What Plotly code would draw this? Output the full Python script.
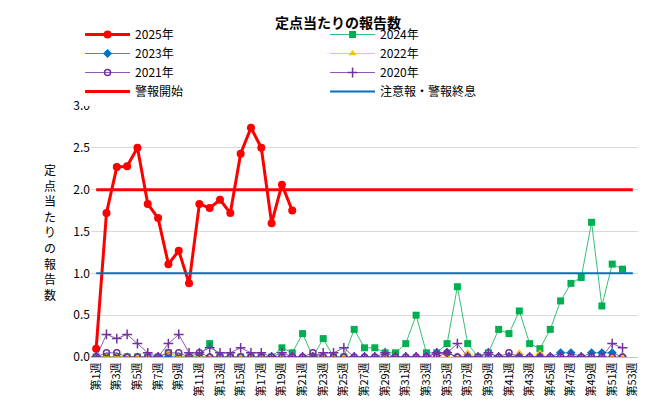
import plotly.graph_objects as go

weeks = [f"第{i}週" for i in range(1, 54)]
y2025 = [0.10,1.72,2.27,2.28,2.50,1.83,1.66,1.11,1.27,0.88,1.83,1.78,1.88,1.72,2.43,2.74,2.50,1.60,2.06,1.75]
y2024 = [0,0,0,0,0,0,0,0.05,0,0,0,0.16,0,0,0,0,0,0,0.11,0.05,0.28,0,0.22,0,0,0.33,0.11,0.11,0.05,0.05,
         0.16,0.50,0.05,0.05,0.16,0.84,0.16,0,0.05,0.33,0.28,0.55,0.16,0.10,0.33,0.67,0.88,0.95,1.61,0.61,1.11,1.05]
y2023 = [0,0,0,0,0,0,0,0,0,0,0,0,0,0,0,0,0,0,0,0,0,0,0,0,0,0,0,0,0,0,0,0,0,0.05,0.05,0,0,0,0.05,0,0,0,0,0,0,0.05,0.05,0,0.05,0.05,0.05,0]
y2022 = [0,0,0,0,0,0,0,0.05,0,0,0,0,0,0,0,0,0,0,0,0,0,0,0,0,0,0,0,0,0,0,0,0,0,0,0,0,0.05,0,0.05,0,0,0.05,0,0.05,0,0,0,0,0,0,0,0]
y2021 = [0,0.05,0.05,0,0,0,0,0.05,0.05,0,0.05,0,0,0,0,0,0,0,0,0,0,0.05,0,0,0,0,0,0,0,0,0,0,0,0,0.05,0,0,0,0,0,0.05,0,0,0,0,0,0,0,0,0,0,0]
y2020 = [0,0.27,0.22,0.27,0.16,0.05,0,0.16,0.27,0.05,0.05,0.11,0.05,0.05,0.11,0.05,0.05,0,0.05,0,0,0,0.05,0.05,0.11,0,0,0,0.05,0,0,0,0,0.05,0.05,0.16,0,0,0.05,0,0,0,0,0,0,0,0,0,0,0,0.16,0.11]
alarm_start = 2.0
alarm_end = 1.0

fig = go.Figure()
fig.add_trace(go.Scatter(x=weeks[:len(y2025)], y=y2025, name="2025年", mode="lines+markers",
    line=dict(color="#FF0000", width=3), marker=dict(symbol="circle", size=8, color="#FF0000")))
fig.add_trace(go.Scatter(x=weeks[:52], y=y2024, name="2024年", mode="lines+markers",
    line=dict(color="#00B050", width=0.8), marker=dict(symbol="square", size=7, color="#00B050")))
fig.add_trace(go.Scatter(x=weeks[:52], y=y2023, name="2023年", mode="lines+markers",
    line=dict(color="#0070C0", width=0.8), marker=dict(symbol="diamond", size=7, color="#0070C0")))
fig.add_trace(go.Scatter(x=weeks[:52], y=y2022, name="2022年", mode="lines+markers",
    line=dict(color="#FFC000", width=0.8), marker=dict(symbol="triangle-up", size=7, color="#FFC000")))
fig.add_trace(go.Scatter(x=weeks[:52], y=y2021, name="2021年", mode="lines+markers",
    line=dict(color="#7030A0", width=0.8), marker=dict(symbol="circle-open", size=6, color="#7030A0", line=dict(width=1.5))))
fig.add_trace(go.Scatter(x=weeks[:52], y=y2020, name="2020年", mode="lines+markers",
    line=dict(color="#7030A0", width=0.8), marker=dict(symbol="cross-thin-open", size=7, color="#7030A0", line=dict(width=1.5, color="#7030A0"))))
fig.add_trace(go.Scatter(x=weeks, y=[alarm_start]*53, name="警報開始", mode="lines",
    line=dict(color="#FF0000", width=3)))
fig.add_trace(go.Scatter(x=weeks, y=[alarm_end]*53, name="注意報・警報終息", mode="lines",
    line=dict(color="#0070C0", width=2)))

fig.update_layout(
    width=660, height=417, paper_bgcolor="white", plot_bgcolor="white",
    font=dict(family="Noto Sans CJK JP", size=12, color="black"),
    title=dict(text="<b>定点当たりの報告数</b>", x=0.5, y=0.975, xanchor="center", font=dict(size=14)),
    margin=dict(l=83, r=30, t=85, b=68),
    showlegend=True,
    legend=dict(orientation="h", x=-0.02, xanchor="left", y=1.0, yanchor="bottom",
                entrywidth=185, entrywidthmode="pixels", font=dict(size=12), tracegroupgap=0,
                itemwidth=45),
    xaxis=dict(type="category", categoryorder="array", categoryarray=weeks,
               tickvals=weeks[::2], tickangle=-90, showgrid=False, showline=True,
               linecolor="#bfbfbf", ticks="", range=[-0.5, 52.5], tickfont=dict(size=11)),
    yaxis=dict(range=[0, 3], dtick=0.5, tickformat=".1f", showgrid=True, gridcolor="#d9d9d9",
               zeroline=False, showline=False, tickfont=dict(size=12)),
)
fig.add_annotation(text="<br>".join("定点当たりの報告数"), xref="paper", yref="paper",
                   x=-0.09, y=0.5, showarrow=False, font=dict(size=12), align="center")
fig.write_html("out.html")
